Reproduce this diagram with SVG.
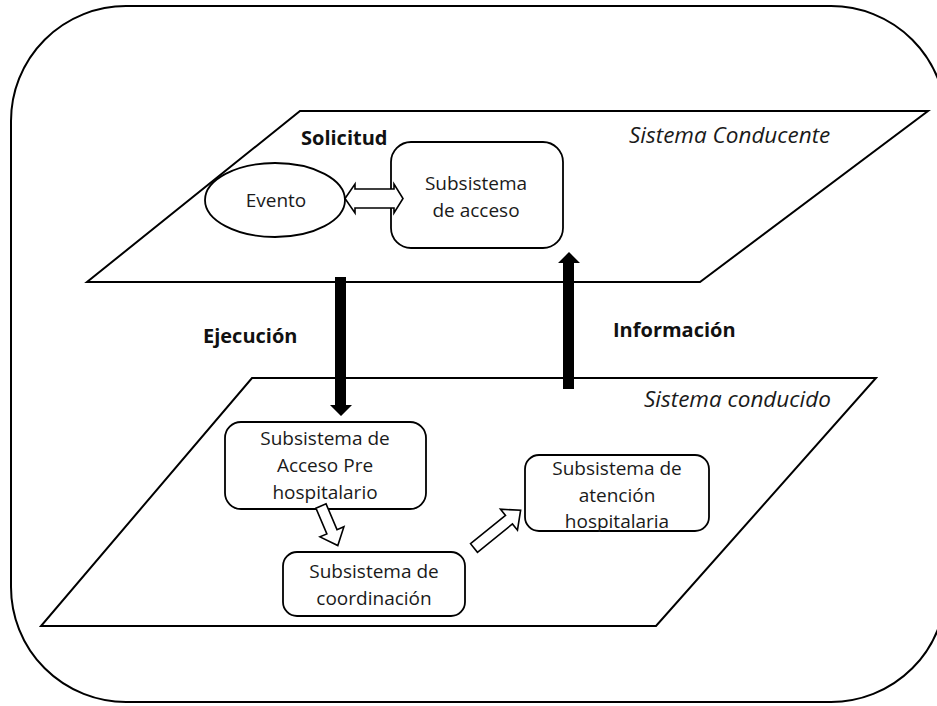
<svg xmlns="http://www.w3.org/2000/svg" width="937" height="706" viewBox="0 0 937 706">
<style>
.frame{fill:none;stroke:#000;stroke-width:2}
.plane{fill:#fff;stroke:#000;stroke-width:2}
.box{fill:#fff;stroke:#000;stroke-width:1.8}
.harrow{fill:#fff;stroke:#000;stroke-width:1.6;stroke-linejoin:miter}
.barrow{fill:#000;stroke:none}
.t{font-family:"Open Sans","Liberation Sans",sans-serif;font-size:19px;fill:#1a1a1a;text-anchor:middle}
.b{font-family:"Open Sans","Liberation Sans",sans-serif;font-size:20px;font-weight:bold;fill:#111}
.i{font-family:"Open Sans","Liberation Sans",sans-serif;font-size:22.5px;font-style:italic;fill:#1a1a1a}
</style>
<rect width="937" height="706" fill="#fff"/>
<rect class="frame" x="11" y="6" width="935" height="696" rx="115" ry="115"/>

<g id="plane-conducente">
<polygon class="plane" points="300,111 928,111 700,282 87,282"/>
<text class="i" x="629" y="143">Sistema Conducente</text>
</g>
<g id="plane-conducido">
<polygon class="plane" points="252,378 876,378 656,626 41,626"/>
<text class="i" x="644" y="407">Sistema conducido</text>
</g>

<g id="evento">
<ellipse class="box" cx="275" cy="200" rx="70" ry="37"/>
<text class="t" x="276" y="207">Evento</text>
</g>
<g id="sub-acceso">
<rect class="box" x="391" y="142" width="172" height="106" rx="20"/>
<text class="t" x="476" y="190">Subsistema</text>
<text class="t" x="476" y="217">de acceso</text>
</g>
<g id="sub-preh">
<rect class="box" x="225" y="422" width="201" height="87" rx="16"/>
<text class="t" x="325" y="445">Subsistema de</text>
<text class="t" x="325" y="472">Acceso Pre</text>
<text class="t" x="325" y="499">hospitalario</text>
</g>
<g id="sub-coord">
<rect class="box" x="283" y="552" width="182" height="64" rx="14"/>
<text class="t" x="374" y="578">Subsistema de</text>
<text class="t" x="374" y="605">coordinación</text>
</g>
<g id="sub-hosp">
<rect class="box" x="525" y="455" width="184" height="76" rx="14"/>
<text class="t" x="617" y="475">Subsistema de</text>
<text class="t" x="617" y="502">atención</text>
<text class="t" x="617" y="528">hospitalaria</text>
</g>

<g id="labels">
<text class="b" x="301" y="145">Solicitud</text>
<text class="b" x="203" y="343">Ejecución</text>
<text class="b" x="613" y="337">Información</text>
</g>

<g id="connectors">
<polygon class="harrow" points="345,198.5 355,184 355,189 394,189 394,184 403,198.5 394,213 394,208 355,208 355,213"/>
<polygon class="barrow" points="335,277 346,277 346,405 352,405 341,416 330,405 335,405"/>
<polygon class="barrow" points="563,389 574,389 574,263 580,263 569,252 558,263 563,263"/>
<g transform="translate(321,506) rotate(67)">
<polygon class="harrow" points="0,-5.5 28,-5.5 28,-13 43,0 28,13 28,5.5 0,5.5"/>
</g>
<g transform="translate(474,548) rotate(-39)">
<polygon class="harrow" points="0,-5.5 45,-5.5 45,-13.5 60,0 45,13.5 45,5.5 0,5.5"/>
</g>
</g>
</svg>
